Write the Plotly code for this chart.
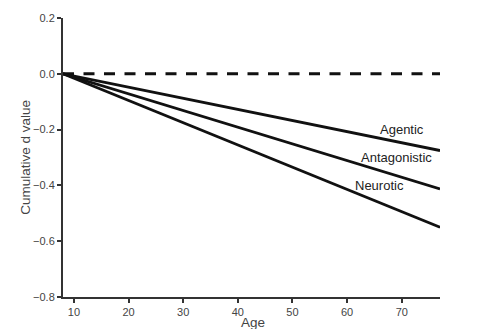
import plotly.graph_objects as go

# Cumulative change in d from age 8 to 77
ages = [8, 77]
series_names = ["Agentic", "Antagonistic", "Neurotic"]
series_values = [
    [0.0, -0.275],
    [0.0, -0.413],
    [0.0, -0.55],
]
baseline = [0.0, 0.0]
label_pos_x = [70, 69, 66]
label_pos_y = [-0.2, -0.3, -0.4]
x_ticks = [10, 20, 30, 40, 50, 60, 70]
y_ticks = [0.2, 0.0, -0.2, -0.4, -0.6, -0.8]

fig = go.Figure()
fig.add_trace(go.Scatter(x=ages, y=baseline, mode="lines",
                         line=dict(color="#111", width=3, dash="11px,9.5px"),
                         showlegend=False))
for name, vals in zip(series_names, series_values):
    fig.add_trace(go.Scatter(x=ages, y=vals, mode="lines",
                             line=dict(color="#111", width=2.8),
                             name=name, showlegend=False))

for name, lx, ly in zip(series_names, label_pos_x, label_pos_y):
    fig.add_annotation(x=lx, y=ly, text=name, showarrow=False,
                       font=dict(family="Liberation Sans, Arial", size=13, color="#222"))

axis_font = dict(family="Liberation Sans, Arial", size=11, color="#444")
title_font = dict(family="Liberation Sans, Arial", size=13.5, color="#444")

# Axis titles placed in paper coordinates
fig.add_annotation(xref="paper", yref="paper", x=0.505, y=-0.058, yanchor="top",
                   text="Age", showarrow=False, font=title_font)
fig.add_annotation(xref="paper", yref="paper", x=-0.1, y=0.5, xanchor="center",
                   text="Cumulative d value", textangle=-90, showarrow=False,
                   font=title_font)

fig.update_layout(
    width=480, height=329,
    margin=dict(l=63, r=40, t=18, b=32, autoexpand=False),
    plot_bgcolor="white", paper_bgcolor="white",
    xaxis=dict(range=[8, 77], tickvals=x_ticks, ticks="outside", ticklen=4,
               tickwidth=1.5, tickcolor="#333", showline=True, linecolor="#333",
               linewidth=2, showgrid=False, zeroline=False, tickfont=axis_font,
               automargin=False),
    yaxis=dict(range=[-0.8, 0.2], tickvals=y_ticks, tickformat=".1f", ticks="outside",
               ticklen=4, tickwidth=1.5, tickcolor="#333", showline=True,
               linecolor="#333", linewidth=2, showgrid=False, zeroline=False,
               tickfont=axis_font, automargin=False),
)

fig.write_html("out.html")
